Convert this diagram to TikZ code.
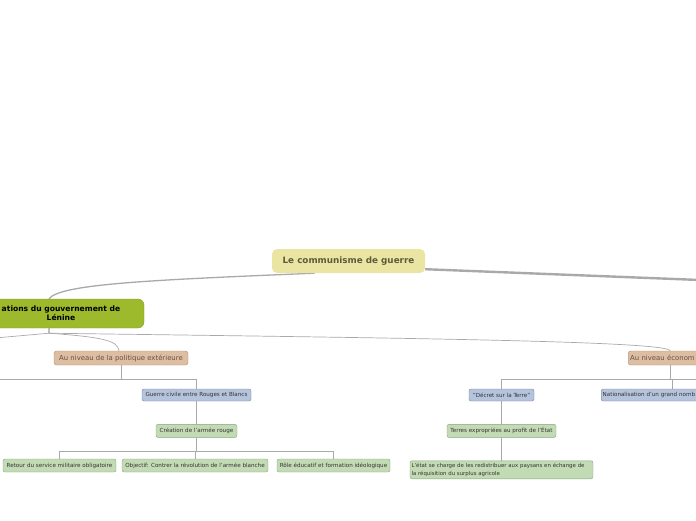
\documentclass[tikz,border=0pt]{standalone}
\usepackage{fontspec}
\setmainfont{DejaVu Sans}
\usepackage{xcolor}
\usetikzlibrary{positioning,backgrounds}
\definecolor{rootfill}{HTML}{EBE5A4}
\definecolor{roottext}{HTML}{5E5B3A}
\definecolor{olive}{HTML}{9DB92C}
\definecolor{olivedark}{HTML}{86A025}
\definecolor{tan}{HTML}{DDBEA2}
\definecolor{tandark}{HTML}{B0906F}
\definecolor{tantext}{HTML}{6B5040}
\definecolor{steel}{HTML}{B5C4DC}
\definecolor{steeldark}{HTML}{74849F}
\definecolor{sage}{HTML}{C3DBB4}
\definecolor{sagedark}{HTML}{84A67A}
\definecolor{wire}{HTML}{A9A9A9}

\begin{document}
\begin{tikzpicture}[
  x=1pt, y=-1pt,
  rootbox/.style={fill=rootfill, rounded corners=5pt, text=roottext, font=\fontsize{8.8}{10}\selectfont\bfseries, minimum width=153pt, minimum height=24pt, inner sep=2pt},
  mainbox/.style={fill=olive, draw=olivedark, rounded corners=6pt, font=\fontsize{7.6}{8.8}\selectfont\bfseries, align=center, minimum height=29pt, inner sep=2pt},
  branchbox/.style={fill=tan, draw=tandark, rounded corners=2.5pt, text=tantext, font=\fontsize{6.9}{8}\selectfont, minimum height=14pt, inner sep=2pt},
  subbox/.style={fill=steel, draw=steeldark, rounded corners=2pt, text=black!80, font=\fontsize{5.6}{6.5}\selectfont, minimum height=12pt, inner sep=1.5pt},
  leafbox/.style={fill=sage, draw=sagedark, rounded corners=2pt, text=black!80, font=\fontsize{5.6}{6.5}\selectfont, minimum height=13pt, inner sep=1.5pt},
  trunk/.style={draw=wire, line width=1.3pt},
  link/.style={draw=wire, line width=0.7pt},
  bus/.style={draw=wire, line width=0.8pt}
]
\useasboundingbox (0,0) rectangle (696,520);
\clip (0,0) rectangle (696,520);

% central topic
\node[rootbox] (root) at (348.5,261) {Le communisme de guerre};
\node[mainbox, minimum width=166pt] (lenine) at (61,313.5) {ations du gouvernement de\\Lénine};

% branches
\node[branchbox, minimum width=134pt] (exterieur) at (121,358) {Au niveau de la politique extérieure};
\node[branchbox, anchor=west, text width=80pt, align=left] (economie) at (628,358) {Au niveau économ};

% politique exterieure
\node[subbox, minimum width=109pt] (guerre) at (196.5,395) {Guerre civile entre Rouges et Blancs};
\node[leafbox, minimum width=81pt, below=23pt of guerre] (armee) {Création de l'armée rouge};
\node[leafbox, minimum width=113pt] (service) at (59.5,465.5) {Retour du service militaire obligatoire};
\node[leafbox, minimum width=146pt] (contrer) at (195,465.5) {Objectif: Contrer la révolution de l'armée blanche};
\node[leafbox, minimum width=113pt] (role) at (333.5,465.5) {Rôle éducatif et formation idéologique};

% politique economique
\node[subbox, minimum width=65pt] (decret) at (501.5,395) {"Décret sur la Terre"};
\node[subbox, anchor=west, text width=139pt, align=left] (national) at (601,395) {Nationalisation d'un grand nomb};
\node[leafbox, minimum width=109pt, below=23pt of decret] (terres) {Terres expropriées au profit de l'État};
\node[leafbox, text width=180pt, align=left, minimum height=18pt, font=\fontsize{5.4}{7.5}\selectfont, below=23pt of terres] (redistrib) {L'état se charge de les redistribuer aux paysans en échange de\\la réquisition du surplus agricole};

\coordinate (rootright) at (700,280);
\coordinate (lenleft) at (-5,338);
\coordinate (extleft) at (-5,379);
\coordinate (ecoright) at (700,379);

\begin{scope}[on background layer]
  \draw[trunk] ([xshift=-34pt]root.south) .. controls (150,280) and (60,284) .. ([xshift=-12pt]lenine.north);
  \draw[trunk, line width=2.4pt] ([yshift=4pt]root.south east) -- (rootright);

  \draw[link] ([xshift=-12pt]lenine.south) -- ++(0,5) -- (lenleft);
  \draw[link] ([xshift=-12pt]lenine.south) -- ++(0,5) .. controls (100,337) and (118,340) .. ([xshift=-2pt]exterieur.north);
  \draw[link] ([xshift=-12pt]lenine.south) -- ++(0,5) .. controls (400,338) and (668,341) .. (economie.north);

  \draw[bus] (exterieur.south) |- (extleft);
  \draw[bus] (exterieur.south) -- ++(0,14) -| (guerre.north);
  \draw[bus] (guerre) -- (armee);
  \draw[bus] (armee.south) -- ++(0,14) -| (service.north);
  \draw[bus] (armee.south) -- ++(0,14) -| (contrer.north);
  \draw[bus] (armee.south) -- ++(0,14) -| (role.north);

  \draw[bus] (economie.south) |- (ecoright);
  \draw[bus] (economie.south) -- ++(0,14) -| (decret.north);
  \draw[bus] (economie.south) -- ++(0,14) -| (national.north);
  \draw[bus] (decret) -- (terres);
  \draw[bus] (terres) -- (redistrib);
\end{scope}
\end{tikzpicture}
\end{document}
